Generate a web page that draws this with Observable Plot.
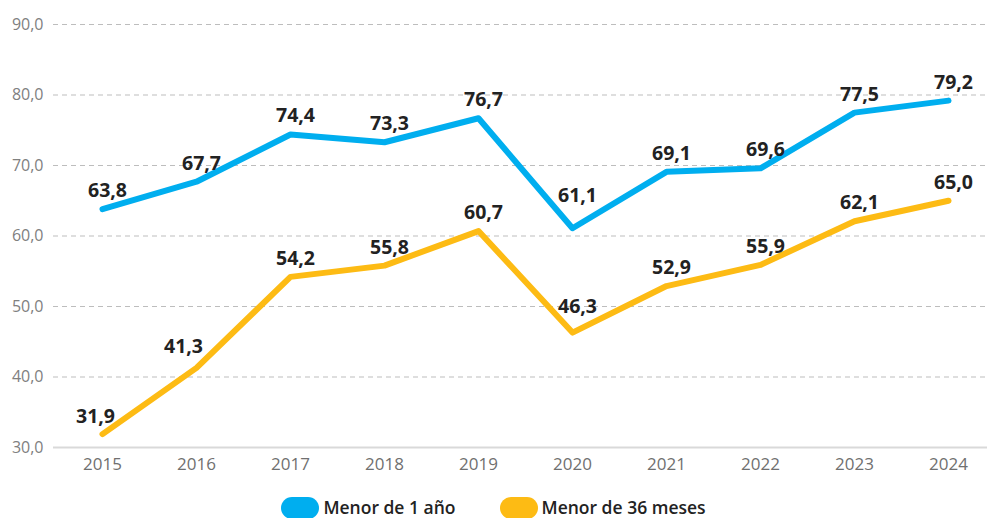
<!DOCTYPE html>
<html>
<head>
<meta charset="utf-8">
<script src="https://cdn.jsdelivr.net/npm/d3@7"></script>
<script src="https://cdn.jsdelivr.net/npm/@observablehq/plot@0.6"></script>
<style>
  html, body { margin: 0; padding: 0; background: #fff; overflow: hidden; }
  body { width: 987px; height: 518px; font-family: "Open Sans", sans-serif; }
  #legend { display: flex; justify-content: center; align-items: center; gap: 44px; margin-top: 12px; line-height: 1; }
  .item { display: flex; align-items: center; gap: 4px; font-size: 17.5px; font-weight: 600; color: #222; line-height: 1; }
  .sw { width: 38px; height: 22px; border-radius: 11px; display: inline-block; }
</style>
</head>
<body>
<div id="chart"></div>
<div id="legend"></div>
<script>
const years = [2015, 2016, 2017, 2018, 2019, 2020, 2021, 2022, 2023, 2024];
const menor1 = [63.8, 67.7, 74.4, 73.3, 76.7, 61.1, 69.1, 69.6, 77.5, 79.2];
const menor36 = [31.9, 41.3, 54.2, 55.8, 60.7, 46.3, 52.9, 55.9, 62.1, 65.0];
const seriesNames = ["Menor de 1 año", "Menor de 36 meses"];
const seriesColors = ["#00AEEF", "#FDBB14"];
const yTicks = [30, 40, 50, 60, 70, 80, 90];

const data = [];
years.forEach((y, i) => data.push({year: y, value: menor1[i], serie: seriesNames[0]}));
years.forEach((y, i) => data.push({year: y, value: menor36[i], serie: seriesNames[1]}));

const fmt = v => v.toFixed(1).replace(".", ",");
const isA = d => d.year === 2020 && d.serie === seriesNames[0];
const isB = d => d.year === 2020 && d.serie === seriesNames[1];
const isC = d => d.year === 2016 && d.serie === seriesNames[1];
const isD = d => d.year === 2015 && d.serie === seriesNames[1];
const labelStyle = {x: "year", y: "value", text: d => fmt(d.value), lineAnchor: "bottom", fontSize: 19.5, fontWeight: 700, fill: "#222"};

const chart = Plot.plot({
  width: 987,
  height: 485,
  marginLeft: 53,
  marginRight: 0,
  marginTop: 24,
  marginBottom: 38,
  style: {fontFamily: "Open Sans, sans-serif", background: "#fff"},
  x: {type: "point", domain: years, range: [101, 948], padding: 0, label: null},
  y: {domain: [30, 90], label: null},
  color: {domain: seriesNames, range: seriesColors},
  marks: [
    Plot.ruleY(yTicks.filter(t => t > 30), {stroke: "#bdbdbd", strokeWidth: 1, strokeDasharray: "5,4"}),
    Plot.ruleY([30], {stroke: "#d9d9d9", strokeWidth: 2}),
    Plot.axisY({ticks: yTicks, tickSize: 0, tickPadding: 10, tickFormat: fmt, fontSize: 16, fill: "#808080", color: "#808080"}),
    Plot.axisX({tickSize: 0, tickPadding: 10, tickFormat: d => String(d), fontSize: 17, fill: "#707070", color: "#707070"}),
    Plot.line(data, {x: "year", y: "value", z: "serie", stroke: "serie", strokeWidth: 6, strokeLinecap: "round", strokeLinejoin: "round"}),
    Plot.text(data, {...labelStyle, filter: d => !isA(d) && !isB(d) && !isC(d) && !isD(d), dx: 5, dy: -12}),
    Plot.text(data, {...labelStyle, filter: isA, dx: 5, dy: -26}),
    Plot.text(data, {...labelStyle, filter: isB, dx: 5, dy: -20}),
    Plot.text(data, {...labelStyle, filter: isC, dx: -13, dy: -15}),
    Plot.text(data, {...labelStyle, filter: isD, dx: -7, dy: -11})
  ]
});
document.getElementById("chart").appendChild(chart);

const legend = document.getElementById("legend");
seriesNames.forEach((n, i) => {
  const it = document.createElement("div");
  it.className = "item";
  it.innerHTML = `<span class="sw" style="background:${seriesColors[i]}"></span><span>${n}</span>`;
  legend.appendChild(it);
});
</script>
</body>
</html>
